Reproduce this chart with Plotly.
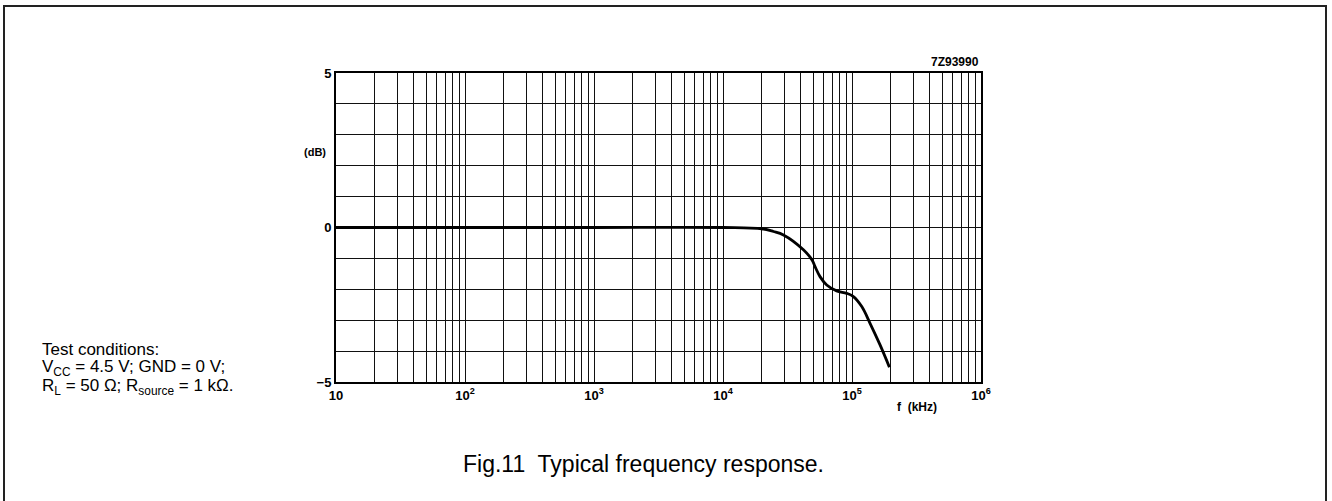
import plotly.graph_objects as go

# Data
freq_khz = [10, 100, 1000, 10000, 20000, 24600, 29400, 42000, 49000, 51600, 56500,
            63700, 76000, 91000, 102000, 119000, 138000, 165000, 195000]
gain_db = [0, 0, 0, 0, -0.04, -0.13, -0.24, -0.72, -1.05, -1.26, -1.59,
           -1.86, -2.05, -2.13, -2.23, -2.56, -3.10, -3.80, -4.52]

decades = [10, 100, 1000, 10000, 100000, 1000000]
decade_labels = ["10", "10<sup>2</sup>", "10<sup>3</sup>", "10<sup>4</sup>",
                 "10<sup>5</sup>", "10<sup>6</sup>"]
y_major = [-5, 0, 5]
y_major_labels = ["\u22125", "0", "5"]
y_minor = [-4, -3, -2, -1, 1, 2, 3, 4]
cond_lines = ["Test conditions:",
              "V<sub>CC</sub> = 4.5 V; GND = 0 V;",
              "R<sub>L</sub> = 50 \u03a9; R<sub>source</sub> = 1 k\u03a9."]
caption = "Fig.11  Typical frequency response."

# minor grid positions: every 2..9 multiple per decade
x_minor = [k * d for d in decades[:-1] for k in range(2, 10)]

fig = go.Figure()
fig.add_trace(go.Scatter(x=freq_khz, y=gain_db, mode="lines",
                         line=dict(color="black", width=2.8, shape="spline", smoothing=1.0),
                         showlegend=False, hoverinfo="skip"))

FONT = "Liberation Sans, Arial, Helvetica, sans-serif"
tick_font = dict(family=FONT, size=13, color="black")
GRID = dict(showgrid=True, gridcolor="#111", gridwidth=1.4)

# plot area in page pixels
PL, PR, PT, PB = 336, 981, 73, 382
W, H = 1332, 501
pw, ph = PR - PL, PB - PT

def px(x):
    return (x - PL) / pw

def py(y):
    return (PB - y) / ph

fig.update_layout(
    width=W, height=H,
    margin=dict(l=PL, r=W - PR, t=PT, b=H - PB),
    paper_bgcolor="white", plot_bgcolor="white",
    xaxis=dict(type="log", range=[1, 6], tickvals=decades,
               ticktext=["<b>" + t + "</b>" for t in decade_labels],
               minor=dict(tickvals=x_minor, ticks="", **GRID),
               showline=True, linecolor="black", linewidth=2, mirror=True,
               ticks="", tickfont=tick_font, zeroline=False, **GRID),
    yaxis=dict(range=[-5, 5], tickvals=y_major,
               ticktext=["<b>" + t + "</b>" for t in y_major_labels],
               minor=dict(tickvals=y_minor, ticks="", **GRID),
               showline=True, linecolor="black", linewidth=2, mirror=True,
               ticks="", tickfont=tick_font, zeroline=False, **GRID),
    font=dict(family=FONT),
)

anns = [
    dict(x=0, xref="paper", xanchor="right", xshift=-8, y=2.45, yref="y",
         text="<b>(dB)</b>", showarrow=False, font=dict(size=11, color="black")),
    dict(x=5.50, xref="x", y=0, yref="paper", yshift=-25, yanchor="middle",
         text="<b>f  (kHz)</b>", showarrow=False, font=dict(size=12, color="black")),
    dict(x=1, xref="paper", xanchor="right", y=1, yref="paper", yanchor="bottom", yshift=2,
         text="<b>7Z93990</b>", showarrow=False, font=dict(size=12, color="black")),
    dict(x=px(643), xref="paper", xanchor="center", y=py(464), yref="paper",
         yanchor="middle", text=caption,
         showarrow=False, font=dict(size=23, color="black")),
]
for line, yc in zip(cond_lines, [349, 368, 387]):
    anns.append(dict(x=px(40), xref="paper", xanchor="left", y=py(yc), yref="paper",
                     yanchor="middle", align="left", text=line, showarrow=False,
                     font=dict(size=17, color="black")))
fig.update_layout(annotations=anns)

# outer frame (left, top, right edges)
L, R, T, B = px(4), px(1326), py(6), py(520)
fig.add_shape(type="path", xref="paper", yref="paper",
              path=f"M {L} {B} L {L} {T} L {R} {T} L {R} {B}",
              line=dict(color="#222", width=2))

fig.write_html("out.html", config={"displayModeBar": False},
               post_script="document.body.style.margin='0';")
